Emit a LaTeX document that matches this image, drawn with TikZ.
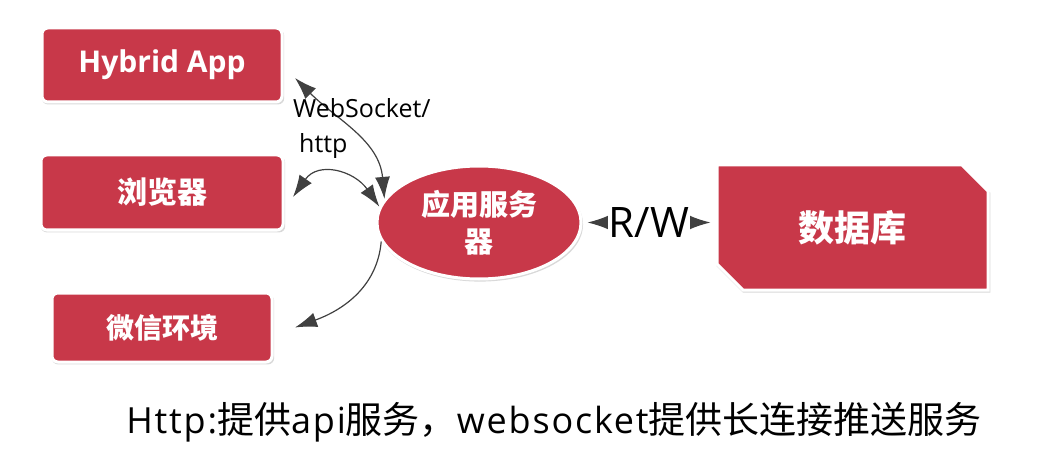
\documentclass[tikz,border=0pt]{standalone}
\usepackage{fontspec}
\setmainfont{Noto Sans CJK SC}
\newfontfamily\latinfont{Open Sans}
\newfontfamily\notelatin[LetterSpace=5]{Open Sans}
\usetikzlibrary{arrows.meta,shapes.geometric,shapes.misc,shadows}
\definecolor{boxred}{RGB}{200,56,73}
\definecolor{linkgray}{RGB}{64,64,64}

\begin{document}
\begin{tikzpicture}[x=1pt,y=1pt,>={Latex[length=22pt,width=15pt]},
  box/.style={draw=white,line width=3pt,fill=boxred,text=white,
    font=\bfseries\fontsize{30}{37}\selectfont,rounded corners=6pt,
    drop shadow={opacity=0.3,shadow xshift=1pt,shadow yshift=-2pt,shadow scale=1.01}},
  link/.style={draw=linkgray,line width=1.2pt}]
  \useasboundingbox (0,0) rectangle (1054,464);

  %clients
  \node[box,minimum width=240pt,minimum height=74pt] (hybrid) at (162,399) {\latinfont\bfseries Hybrid App};
  \node[box,minimum width=242pt,minimum height=75pt] (browser) at (162,271.5) {浏览器};
  \node[box,minimum width=220pt,minimum height=69pt,font=\bfseries\fontsize{28}{34}\selectfont] (wechat) at (162,136.5) {微信环境};

  %server and database
  \node[box,ellipse,minimum width=204pt,minimum height=113pt,align=center,
    font=\bfseries\fontsize{29}{37}\selectfont] (srv) at (479,241.5) {应用服务\\器};
  \node[box,chamfered rectangle,chamfered rectangle corners={north east,south west},
    chamfered rectangle xsep=13pt,chamfered rectangle ysep=13pt,rounded corners=0pt,
    minimum width=271pt,minimum height=125pt,font=\bfseries\fontsize{36}{42}\selectfont] (db) at (852.5,236.5) {数据库};

  %connections
  \draw[link,<->] ([xshift=11.5pt,yshift=-13pt]hybrid.east) to[out=-45,in=95] (srv.166);
  \draw[link,<->] ([xshift=8.5pt,yshift=-4.5pt]browser.east) to[out=55,in=125,looseness=1.3] (srv.171);
  \draw[link,->] (srv.191) to[out=-95,in=20] ([xshift=21.5pt]wechat.east);
  \draw[link,<->,shorten <=5pt,shorten >=5pt] (srv.east) -- node[fill=white,inner sep=1pt,
    font=\latinfont\fontsize{42}{48}\selectfont] (rw) {R/W} (srv.east -| db.west);

  %labels
  \node[anchor=base west,align=left,inner sep=0pt,font=\latinfont\fontsize{25}{35}\selectfont]
    (ws) at (293,311) {WebSocket/\\\hspace*{6pt}http};
  \node[anchor=base,inner sep=0pt,font=\fontsize{37}{42}\selectfont] (note) at (554,31)
    {{\notelatin\fontsize{36}{42}\selectfont Http:}提供{\notelatin\fontsize{36}{42}\selectfont api}服务，{\notelatin\fontsize{36}{42}\selectfont websocket}提供长连接推送服务};
\end{tikzpicture}
\end{document}
